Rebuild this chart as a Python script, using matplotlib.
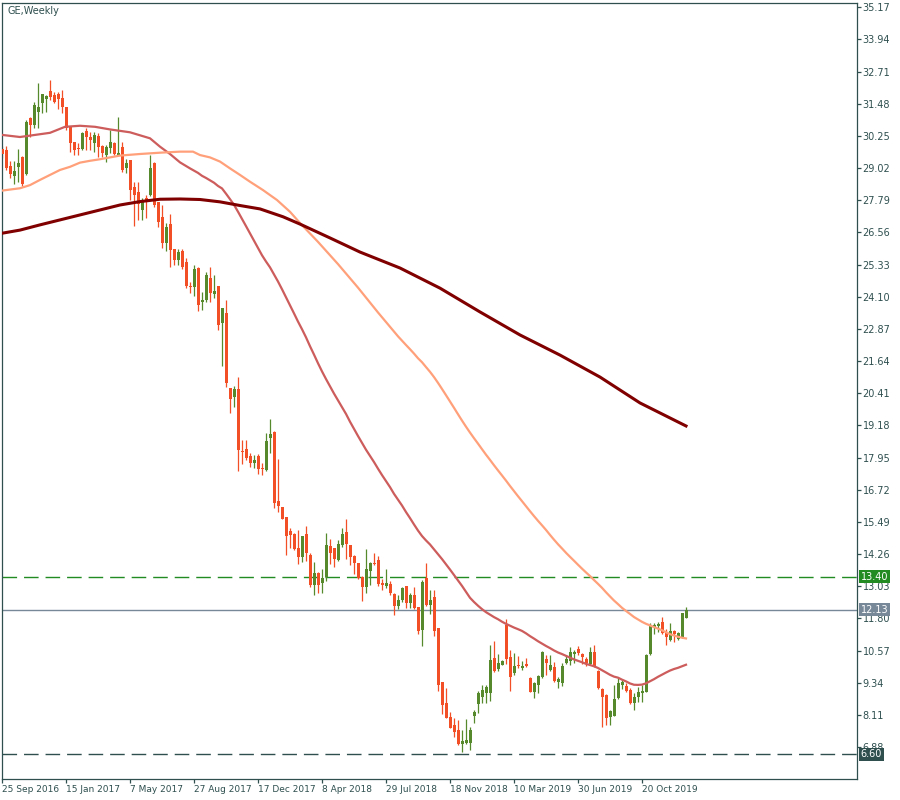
import matplotlib
matplotlib.use("Agg")
import matplotlib.pyplot as plt
import matplotlib.transforms as mtransforms
import numpy as np

# weekly GE candles, first bar (index -1) is cut by the left border
opens = [29.75, 29.71, 29.10, 28.72, 29.06, 29.46, 28.80, 30.95, 30.66, 31.15,
         31.50, 31.67, 31.98, 31.81, 31.87, 31.71, 31.34, 30.60, 30.03, 29.80,
         29.77, 30.45, 30.22, 29.97, 30.25, 29.88, 29.52, 29.78, 29.97, 29.52,
         29.84, 29.01, 29.33, 28.30, 28.10, 27.40, 27.87, 27.99, 29.23, 27.74,
         27.16, 26.14, 26.88, 25.93, 25.51, 25.86, 25.44, 24.53, 24.49, 25.21,
         23.91, 23.98, 24.81, 24.21, 24.51, 23.08, 23.49, 20.60, 20.25, 20.56,
         18.22, 18.28, 18.00, 17.76, 18.00, 17.54, 17.48, 18.69, 18.94, 16.30,
         16.05, 15.67, 15.14, 15.03, 14.50, 14.16, 15.03, 14.22, 13.08, 13.52,
         13.14, 13.37, 14.57, 14.48, 14.05, 14.61, 15.12, 14.61, 14.19, 13.93,
         13.40, 13.01, 13.63, 13.93, 14.03, 13.17, 13.05, 13.13, 12.73, 12.29,
         12.50, 13.04, 12.40, 12.70, 12.22, 11.36, 13.36, 12.31, 12.63, 11.42,
         9.38, 8.55, 8.04, 7.72, 7.53, 6.98, 7.05, 7.05, 8.07, 8.53,
         8.81, 8.96, 8.96, 10.27, 9.85, 10.02, 11.55, 10.31, 9.73, 10.02,
         9.92, 10.06, 9.51, 9.00, 9.25, 9.55, 10.23, 9.83, 9.93, 9.38,
         9.32, 10.08, 10.19, 10.44, 10.62, 10.44, 10.23, 10.06, 10.53, 9.80,
         9.09, 8.87, 8.04, 8.08, 8.74, 9.26, 9.22, 9.06, 8.55, 8.81,
         8.96, 8.99, 10.43, 11.49, 11.51, 11.68, 11.29, 10.97, 11.33, 11.00,
         11.08, 11.83]
highs = [29.85, 29.85, 29.30, 29.30, 29.76, 29.50, 30.86, 30.98, 31.56, 32.29,
         31.85, 31.81, 32.40, 31.94, 31.94, 32.00, 31.34, 30.60, 30.03, 29.97,
         30.41, 30.54, 30.41, 30.41, 30.35, 29.90, 29.90, 30.48, 30.03, 30.99,
         30.03, 29.36, 29.33, 28.50, 28.50, 27.87, 28.00, 29.52, 29.24, 27.74,
         27.61, 26.93, 27.27, 25.93, 25.93, 25.93, 25.57, 24.68, 25.31, 25.25,
         24.30, 25.06, 25.25, 24.93, 24.51, 23.66, 23.98, 20.60, 20.69, 21.04,
         18.62, 18.62, 18.11, 18.05, 18.08, 17.73, 18.90, 19.43, 18.97, 17.88,
         16.05, 15.67, 15.25, 15.05, 15.18, 14.95, 15.33, 14.29, 13.95, 13.59,
         13.70, 15.05, 14.82, 14.48, 14.80, 15.25, 15.60, 14.61, 14.22, 13.93,
         13.42, 14.44, 13.97, 14.29, 14.19, 13.30, 13.68, 13.23, 12.77, 12.68,
         13.00, 13.04, 12.76, 12.99, 12.25, 13.27, 13.91, 12.89, 12.89, 11.42,
         9.38, 9.13, 8.23, 8.00, 7.92, 7.53, 7.95, 7.63, 8.30, 9.03,
         9.25, 9.25, 10.78, 10.94, 10.44, 10.21, 11.76, 10.59, 10.49, 10.36,
         10.17, 10.27, 9.55, 9.38, 9.64, 10.57, 10.40, 10.40, 10.15, 9.55,
         10.11, 10.40, 10.72, 10.59, 10.74, 10.47, 10.31, 10.72, 10.78, 9.83,
         9.13, 8.91, 8.30, 9.25, 9.51, 9.45, 9.32, 9.13, 8.96, 9.19,
         9.25, 10.43, 11.61, 11.61, 11.68, 11.84, 11.38, 11.61, 11.36, 11.29,
         12.02, 12.25]
lows = [29.40, 28.95, 28.63, 28.40, 28.50, 28.35, 28.77, 30.22, 30.54, 30.54,
        31.12, 31.18, 31.63, 31.52, 31.30, 31.12, 30.47, 29.65, 29.52, 29.52,
        29.71, 29.71, 29.71, 29.65, 29.46, 29.46, 29.27, 29.59, 29.52, 29.52,
        28.88, 28.82, 27.82, 26.82, 27.03, 27.03, 27.10, 27.94, 27.52, 26.78,
        25.95, 25.86, 25.23, 25.32, 25.32, 25.16, 24.42, 24.26, 24.13, 23.57,
        23.60, 23.91, 23.91, 24.04, 22.83, 21.45, 20.64, 19.64, 19.87, 17.45,
        17.70, 17.86, 17.60, 17.54, 17.32, 17.29, 17.45, 18.11, 16.01, 15.88,
        15.59, 14.23, 14.48, 14.42, 13.88, 13.95, 14.00, 13.02, 12.70, 12.77,
        12.78, 13.25, 13.90, 13.78, 14.00, 14.54, 14.08, 13.86, 13.50, 13.29,
        12.48, 12.76, 13.07, 13.84, 13.04, 12.87, 12.98, 12.70, 11.93, 12.17,
        12.44, 12.21, 12.21, 12.16, 11.20, 10.76, 12.29, 11.97, 11.14, 9.03,
        8.13, 7.98, 7.60, 7.28, 6.96, 6.68, 7.00, 6.77, 7.80, 8.17,
        8.55, 8.55, 8.66, 9.76, 9.80, 10.00, 10.06, 9.04, 9.64, 9.89,
        9.83, 9.93, 8.97, 8.77, 8.96, 9.51, 9.64, 9.80, 9.38, 9.15,
        9.22, 10.06, 10.02, 10.11, 10.40, 10.06, 9.98, 10.02, 9.96, 9.10,
        7.66, 7.72, 7.72, 8.07, 8.70, 9.09, 9.00, 8.53, 8.30, 8.62,
        8.62, 8.99, 10.40, 11.20, 11.29, 11.20, 10.78, 10.95, 10.91, 10.97,
        11.04, 11.80]
closes = [29.55, 29.01, 28.80, 28.90, 29.20, 28.40, 30.80, 30.66, 31.43, 31.37,
          31.85, 31.78, 31.75, 31.56, 31.67, 31.34, 30.54, 29.97, 29.71, 29.74,
          30.35, 30.20, 30.10, 30.28, 29.84, 29.59, 29.84, 30.03, 29.56, 29.61,
          28.95, 29.20, 28.18, 27.99, 27.65, 27.78, 27.82, 29.01, 27.61, 26.97,
          26.14, 26.76, 25.89, 25.51, 25.82, 25.25, 24.51, 24.46, 25.16, 23.79,
          23.98, 24.93, 24.23, 24.33, 23.02, 23.66, 20.79, 20.18, 20.56, 18.24,
          18.18, 17.92, 17.73, 17.86, 17.50, 17.50, 18.58, 18.84, 16.23, 16.10,
          15.60, 14.97, 14.99, 14.46, 14.16, 14.95, 14.31, 13.08, 13.55, 13.08,
          13.33, 14.61, 14.31, 14.07, 14.65, 15.03, 14.65, 14.14, 13.91, 13.33,
          13.01, 13.68, 13.93, 13.88, 13.13, 13.06, 13.17, 12.76, 12.29, 12.50,
          12.96, 12.40, 12.70, 12.19, 11.33, 13.21, 12.31, 12.50, 11.33, 9.25,
          8.49, 8.00, 7.62, 7.47, 7.00, 7.11, 7.15, 7.53, 8.23, 8.93,
          9.06, 9.19, 10.21, 9.80, 10.10, 10.17, 10.24, 9.57, 9.98, 9.98,
          9.99, 9.99, 9.00, 9.34, 9.60, 10.53, 10.11, 10.02, 9.42, 9.47,
          9.98, 10.23, 10.50, 10.53, 10.47, 10.31, 10.08, 10.53, 9.98, 9.15,
          8.78, 7.98, 8.26, 8.72, 9.34, 9.38, 9.04, 8.55, 8.81, 8.99,
          9.04, 10.40, 11.51, 11.55, 11.57, 11.26, 11.10, 11.33, 11.20, 11.23,
          12.02, 12.13]

# moving averages before enough bars are on the chart
ma50_early_idx = [-1, 3.5, 11, 14.75, 18.5, 22.25, 26, 31, 36, 38.5, 41, 43.5, 46]
ma50_early = [30.29, 30.21, 30.37, 30.60, 30.64, 30.60, 30.50, 30.39, 30.16,
              29.84, 29.56, 29.24, 29.01]
ma100_early_idx = [-1, 3.5, 6, 8.5, 11, 13.5, 16, 18.5, 21, 23.5, 28.5, 33.5, 38.5,
                   43.5, 46.75, 48.5, 51, 53.5, 56, 58.5, 61, 64.25, 67.75, 71,
                   73.5, 78, 83, 88, 93]
ma100_early = [28.16, 28.25, 28.37, 28.57, 28.76, 28.95, 29.07, 29.23, 29.30, 29.36,
               29.50, 29.56, 29.61, 29.65, 29.65, 29.52, 29.43, 29.27, 29.01, 28.76,
               28.50, 28.18, 27.80, 27.35, 26.92, 26.20, 25.35, 24.45, 23.50]
ma200_idx = [-1, 3.5, 8.5, 13.5, 18.5, 23.5, 28.5, 33.5, 38.5, 43.5, 48.5, 53.5,
             58.5, 63.5, 69.25, 73.5, 81, 88.5, 98.5, 108.5, 118.5, 128.5, 138.5,
             148.5, 158.5, 170]
ma200 = [26.53, 26.65, 26.85, 27.04, 27.23, 27.42, 27.61, 27.74, 27.83, 27.84,
         27.82, 27.73, 27.59, 27.46, 27.16, 26.88, 26.35, 25.81, 25.20, 24.43,
         23.52, 22.64, 21.87, 21.03, 20.04, 19.16]

date_labels = ["25 Sep 2016", "15 Jan 2017", "7 May 2017", "27 Aug 2017",
               "17 Dec 2017", "8 Apr 2018", "29 Jul 2018", "18 Nov 2018",
               "10 Mar 2019", "30 Jun 2019", "20 Oct 2019"]
price_ticks = [35.17, 33.94, 32.71, 31.48, 30.25, 29.02, 27.79, 26.56, 25.33,
               24.10, 22.87, 21.64, 20.41, 19.18, 17.95, 16.72, 15.49, 14.26,
               13.03, 11.80, 10.57, 9.34, 8.11, 6.88]
level_hi = 13.40
level_lo = 6.60
last_price = 12.13

frame = "#2F4F4F"
bull = "#55892B"
bear = "#F24F27"

o = np.array(opens)
h = np.array(highs)
l = np.array(lows)
c = np.array(closes)
idx = np.arange(-1, len(c) - 1)


def sma(v, n):
    out = np.full(len(v), np.nan)
    for k in range(n - 1, len(v)):
        out[k] = v[k - n + 1:k + 1].mean()
    return out


fig = plt.figure(figsize=(9, 8), dpi=100)
ax = fig.add_axes([2 / 900, 1 - 779 / 800, 855 / 900, 776.5 / 800])

up = c >= o
cols = np.where(up, bull, bear)
ax.vlines(idx, l, h, colors=cols, linewidth=0.9, zorder=2)
body = np.maximum(np.abs(c - o), 0.04)
ax.bar(idx, body, bottom=np.minimum(o, c), width=0.75, color=cols,
       linewidth=0, antialiased=False, zorder=3)

m50 = sma(c, 50)
m100 = sma(c, 100)
ax.plot(list(ma50_early_idx) + list(idx[49:]), ma50_early + list(m50[49:]),
        color="#CD5C5C", lw=1.6, zorder=4)
ax.plot(list(ma100_early_idx) + list(idx[99:]), ma100_early + list(m100[99:]),
        color="#FFA07A", lw=1.6, zorder=4)
ax.plot(ma200_idx, ma200, color="#800000", lw=2.2, zorder=4)

ax.axhline(level_hi, color="#228B22", lw=1.0, ls=(0, (10.5, 5)), zorder=1)
ax.axhline(level_lo, color=frame, lw=1.0, ls=(0, (10.5, 5)), zorder=1)
ax.axhline(last_price, color="#778899", lw=1.0, zorder=1)

ax.set_xlim(-1, 212.75)
ax.set_ylim(35.17 - 771.7 / 26.15, 35.17 + 4.8 / 26.15)

for s in ax.spines.values():
    s.set_color(frame)
    s.set_linewidth(0.9)

ax.yaxis.tick_right()
ax.set_yticks(price_ticks)
ax.set_yticklabels(["%.2f" % v for v in price_ticks])
ax.set_xticks([-1 + 16 * k for k in range(len(date_labels))])
ax.set_xticklabels(date_labels)
ax.tick_params(axis="both", direction="out", length=3, width=0.9, color=frame,
               labelcolor=frame, labelsize=6.5, pad=1)
ax.tick_params(axis="y", labelsize=7)
for t in ax.get_xticklabels():
    t.set_ha("left")

ax.text(0.006, 0.996, "GE,Weekly", transform=ax.transAxes, ha="left", va="top",
        fontsize=7, color=frame)

tr = mtransforms.blended_transform_factory(ax.transAxes, ax.transData)
for val, col in [(level_hi, "#228B22"), (last_price, "#778899"), (level_lo, frame)]:
    ax.text(1.0045, val, "%.2f" % val, transform=tr, ha="left", va="center",
            fontsize=7, color="white", zorder=6,
            bbox=dict(boxstyle="square,pad=0.15", fc=col, ec="none"))

fig.savefig("out.png", dpi=100, facecolor="white")
